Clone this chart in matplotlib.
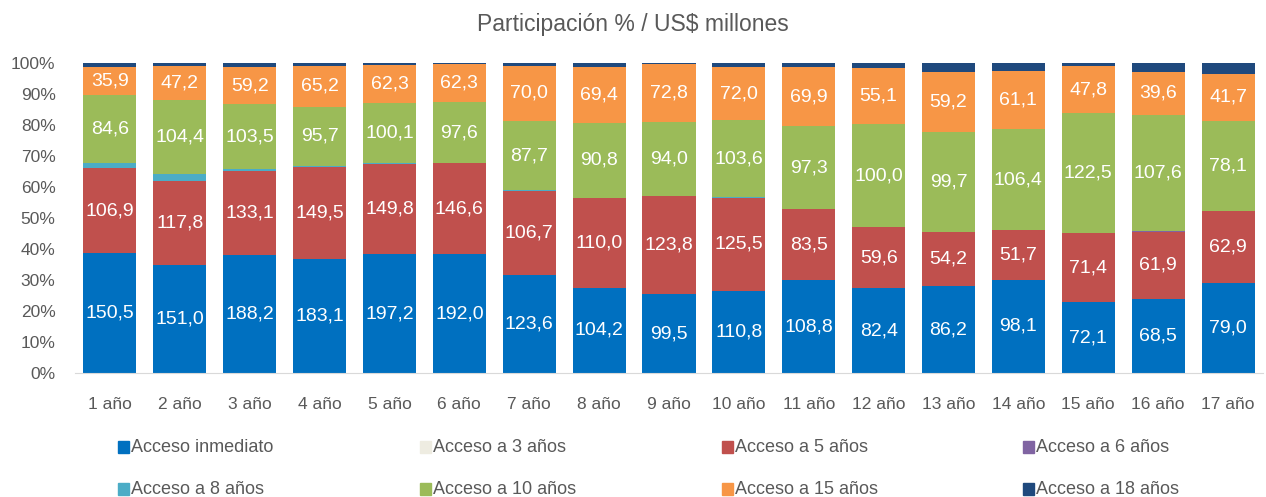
import numpy as np
import matplotlib.pyplot as plt
from matplotlib.patches import Rectangle

plt.rcParams['font.family'] = ['Liberation Sans', 'DejaVu Sans']

CATEGORIES = [f"{i} año" for i in range(1, 18)]

# US$ millones por plazo de acceso (orden de apilado, de abajo hacia arriba)
INMEDIATO = [150.5, 151.0, 188.2, 183.1, 197.2, 192.0, 123.6, 104.2, 99.5,
             110.8, 108.8, 82.4, 86.2, 98.1, 72.1, 68.5, 79.0]
A3 = [0.0] * 17
A5 = [106.9, 117.8, 133.1, 149.5, 149.8, 146.6, 106.7, 110.0, 123.8,
      125.5, 83.5, 59.6, 54.2, 51.7, 71.4, 61.9, 62.9]
A6 = [0.0, 0.0, 0.0, 0.0, 0.0, 0.0, 0.0, 0.0, 0.0,
      0.0, 0.0, 0.0, 0.0, 0.0, 0.0, 0.4, 0.0]
A8 = [6.6, 9.5, 3.0, 1.5, 1.2, 1.0, 0.8, 0.5, 0.5,
      0.5, 0.0, 0.0, 0.0, 0.0, 0.0, 0.0, 0.0]
A10 = [84.6, 104.4, 103.5, 95.7, 100.1, 97.6, 87.7, 90.8, 94.0,
       103.6, 97.3, 100.0, 99.7, 106.4, 122.5, 107.6, 78.1]
A15 = [35.9, 47.2, 59.2, 65.2, 62.3, 62.3, 70.0, 69.4, 72.8,
       72.0, 69.9, 55.1, 59.2, 61.1, 47.8, 39.6, 41.7]
A18 = [4.7, 4.3, 6.4, 5.0, 3.6, 1.5, 3.5, 4.5, 1.2,
       5.4, 4.7, 4.5, 9.3, 8.5, 3.2, 8.3, 9.2]

SERIES = [
    ("Acceso inmediato", INMEDIATO, "#0070C0", True),
    ("Acceso a 3 años", A3, "#EEECE1", False),
    ("Acceso a 5 años", A5, "#C0504D", True),
    ("Acceso a 6 años", A6, "#8064A2", False),
    ("Acceso a 8 años", A8, "#4BACC6", False),
    ("Acceso a 10 años", A10, "#9BBB59", True),
    ("Acceso a 15 años", A15, "#F79646", True),
    ("Acceso a 18 años", A18, "#1F497D", False),
]

W, H = 1266, 497
data = np.array([s[1] for s in SERIES])
shares = data / data.sum(axis=0)

fig = plt.figure(figsize=(W / 100, H / 100), dpi=100)
ax = fig.add_axes([75 / W, 1 - 373 / H, 1188 / W, 310 / H])

x = np.arange(len(CATEGORIES))
bottom = np.zeros(len(CATEGORIES))
for (name, vals, color, show), sh, raw in zip(SERIES, shares, data):
    ax.bar(x, sh, width=0.76, bottom=bottom, color=color, linewidth=0)
    if show:
        for xi, b, h, v in zip(x, bottom, sh, raw):
            ax.text(xi, b + h / 2, f"{v:.1f}".replace(".", ","),
                    ha="center", va="center", color="white", fontsize=14)
    bottom += sh

ax.set_xlim(-0.5, len(CATEGORIES) - 0.5)
ax.set_ylim(0, 1)
yt = np.arange(0, 1.01, 0.1)
ax.set_yticks(yt)
ax.set_yticklabels([f"{int(round(t * 100))}%" for t in yt])
ax.set_xticks(x)
ax.set_xticklabels(CATEGORIES)
ax.tick_params(axis="both", length=0, labelsize=12.5, colors="#595959")
ax.tick_params(axis="x", pad=17)
ax.tick_params(axis="y", pad=14)
for side in ["top", "right", "left"]:
    ax.spines[side].set_visible(False)
ax.spines["bottom"].set_color("#D9D9D9")

fig.text(0.5, 1 - 25 / H, "Participación % / US$ millones",
         ha="center", va="center", fontsize=16.5, color="#595959")

# legend, drawn by hand in two rows of four
col_x = [118, 420, 722, 1023]
row_y = [447, 489]
for i, (name, vals, color, show) in enumerate(SERIES):
    cx = col_x[i % 4]
    cy = row_y[i // 4]
    fig.patches.append(Rectangle((cx / W, 1 - (cy + 6) / H), 11 / W, 12 / H,
                                 transform=fig.transFigure, color=color))
    fig.text((cx + 13) / W, 1 - cy / H, name, ha="left", va="center",
             fontsize=13, color="#595959")

fig.savefig("out.png", dpi=100)
